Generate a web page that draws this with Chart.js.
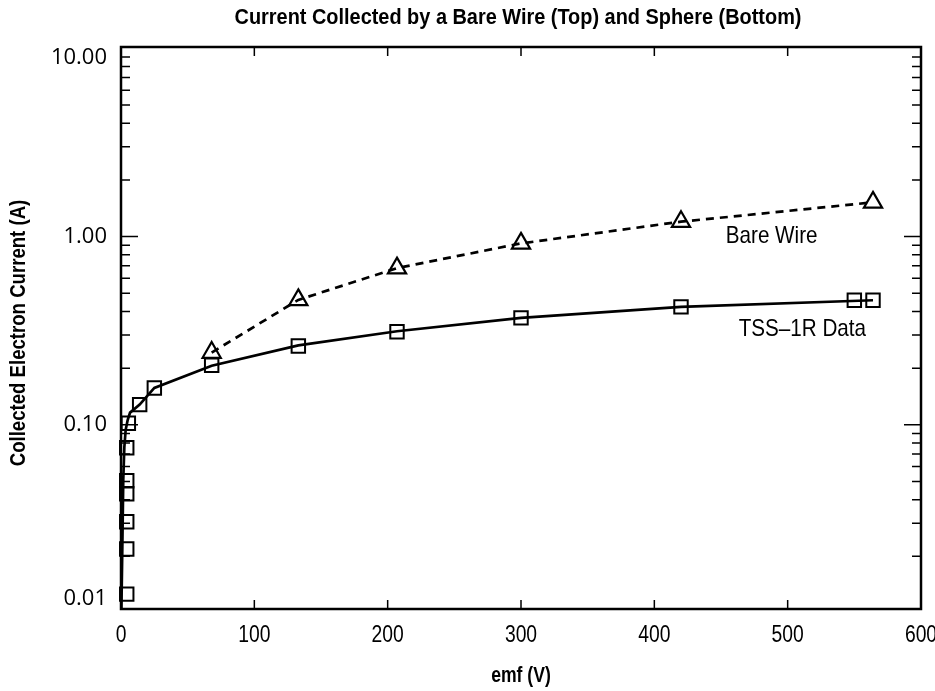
<!DOCTYPE html>
<html>
<head>
<meta charset="utf-8">
<script src="https://cdn.jsdelivr.net/npm/chart.js@4.4.0/dist/chart.umd.min.js"></script>
<style>
  body { margin: 0; background: #fff; }
  #wrap { width: 935px; height: 691px; }
</style>
</head>
<body>
<div id="wrap"><canvas id="currentChart" width="935" height="691"></canvas></div>
<script>
// ========================================
// Current collected by a bare wire and a sphere
// ========================================

// TSS-1R data (squares)
const sphereEmf = [4.3, 4.3, 4.3, 4.3, 4.3, 4.3, 5.5, 14, 25, 68, 133, 207, 300, 420, 550, 564];
const sphereCurrent = [0.0126, 0.0219, 0.0305, 0.043, 0.0504, 0.0755, 0.102, 0.128, 0.157, 0.207, 0.262, 0.312, 0.370, 0.423, 0.459, 0.459];

// Solid curve through the sphere data
const fitEmf = [0.3, 1.0, 1.7, 2.5, 3.5, 5.0, 6.8, 14, 25, 68, 133, 207, 300, 420, 564];
const fitCurrent = [0.0105, 0.0225, 0.051, 0.076, 0.094, 0.106, 0.116, 0.128, 0.157, 0.206, 0.264, 0.314, 0.370, 0.423, 0.459];

// Bare wire (triangles, dashed)
const wireEmf = [68, 133, 207, 300, 420, 564];
const wireCurrent = [0.242, 0.461, 0.680, 0.920, 1.20, 1.52];

// Axis ticks
const xTickValues = [0, 100, 200, 300, 400, 500, 600];
const yTickValues = [0.01, 0.1, 1, 10];
const yTickLabels = ['0.01', '0.10', '1.00', '10.00'];

// Text labels placed next to the curves (data coordinates)
const curveLabels = ['Bare Wire', 'TSS\u20131R Data'];
const curveLabelEmf = [488, 511];
const curveLabelCurrent = [1.0, 0.323];

const SANS = '"Liberation Sans", Arimo, Arial, sans-serif';
const WIDE = '"Open Sans", "Noto Sans", sans-serif';

const toPoints = (xs, ys) => xs.map((v, i) => ({ x: v, y: ys[i] }));

// Helvetica-Narrow look: regular sans squeezed horizontally
function narrowText(ctx, text, x, y, size, weight, sx, rot) {
  ctx.save();
  ctx.translate(x, y);
  if (rot) ctx.rotate(rot);
  ctx.scale(sx, 1);
  ctx.font = `${weight} ${size}px ${SANS}`;
  ctx.textAlign = 'center';
  ctx.textBaseline = 'middle';
  ctx.fillText(text, 0, 0);
  ctx.restore();
}

// Frame, inward ticks, labels, titles
const framePlugin = {
  id: 'frame',
  afterDraw(chart) {
    const { ctx, chartArea: a, scales: { x, y } } = chart;
    ctx.save();
    ctx.strokeStyle = '#000';
    ctx.fillStyle = '#000';

    // x ticks, bottom and top
    ctx.lineWidth = 1.5;
    ctx.beginPath();
    xTickValues.forEach(v => {
      const px = x.getPixelForValue(v);
      ctx.moveTo(px, a.bottom); ctx.lineTo(px, a.bottom - 9);
      ctx.moveTo(px, a.top); ctx.lineTo(px, a.top + 9);
    });

    // y ticks, left and right (log minor ticks)
    [0.01, 0.1, 1].forEach(d => {
      for (let m = 1; m <= 9; m++) {
        const v = d * m;
        if (v < y.min || v > y.max) continue;
        const py = y.getPixelForValue(v);
        const len = m === 1 ? 17 : 9;
        ctx.moveTo(a.left, py); ctx.lineTo(a.left + len, py);
        ctx.moveTo(a.right, py); ctx.lineTo(a.right - len, py);
      }
    });
    ctx.stroke();

    // frame
    ctx.lineWidth = 2.5;
    ctx.strokeRect(a.left, a.top, a.right - a.left, a.bottom - a.top);

    // y tick labels
    ctx.font = '22px ' + WIDE;
    ctx.textAlign = 'right';
    ctx.textBaseline = 'middle';
    yTickValues.forEach((v, i) => {
      let py = y.getPixelForValue(v);
      py = Math.min(Math.max(py, a.top + 11), a.bottom - 10);
      ctx.fillText(yTickLabels[i], 107, py);
    });

    // x tick labels
    xTickValues.forEach(v => {
      narrowText(ctx, String(v), x.getPixelForValue(v), 636, 23, 'normal', 0.84);
    });

    // axis titles
    narrowText(ctx, 'emf (V)', (a.left + a.right) / 2, 676, 22, 'bold', 0.8);
    narrowText(ctx, 'Collected Electron Current (A)', 19, (a.top + a.bottom) / 2 + 5, 22, 'bold', 0.845, -Math.PI / 2);

    // chart title
    narrowText(ctx, 'Current Collected by a Bare Wire (Top) and Sphere (Bottom)', (a.left + a.right) / 2 - 3, 18, 22, 'bold', 0.905);

    // curve labels
    curveLabels.forEach((t, i) => {
      narrowText(ctx, t, x.getPixelForValue(curveLabelEmf[i]), y.getPixelForValue(curveLabelCurrent[i]), 24, 'normal', 0.86);
    });

    ctx.restore();
  }
};

document.addEventListener('DOMContentLoaded', () => {
  const ctx = document.getElementById('currentChart');
  new Chart(ctx, {
    type: 'scatter',
    data: {
      datasets: [
        {
          label: 'Fit',
          data: toPoints(fitEmf, fitCurrent),
          showLine: true,
          borderColor: '#000',
          borderWidth: 2.7,
          pointRadius: 0,
          tension: 0,
          clip: false
        },
        {
          label: 'TSS-1R Data',
          data: toPoints(sphereEmf, sphereCurrent),
          showLine: false,
          pointStyle: 'rect',
          pointRadius: 9.5,
          pointBorderWidth: 2,
          pointBorderColor: '#000',
          pointBackgroundColor: 'rgba(0,0,0,0)',
          clip: false
        },
        {
          label: 'Bare Wire',
          data: toPoints(wireEmf, wireCurrent),
          showLine: true,
          borderColor: '#000',
          borderWidth: 2.7,
          borderDash: [8, 6],
          pointStyle: 'triangle',
          pointRadius: 10.5,
          pointBorderWidth: 2.2,
          pointBorderColor: '#000',
          pointBackgroundColor: 'rgba(0,0,0,0)',
          clip: false
        }
      ]
    },
    options: {
      responsive: false,
      devicePixelRatio: 1,
      animation: false,
      layout: { padding: { top: 47, right: 14, left: 0, bottom: 0 } },
      plugins: {
        legend: { display: false },
        tooltip: { enabled: false },
        title: { display: false }
      },
      scales: {
        x: {
          type: 'linear',
          min: 0,
          max: 600,
          grid: { display: false, drawTicks: false },
          border: { display: false },
          ticks: { display: false, stepSize: 100 },
          afterFit: s => { s.height = 82; s.paddingLeft = 0; s.paddingRight = 0; }
        },
        y: {
          type: 'logarithmic',
          min: 0.0105,
          max: 10.17,
          grid: { display: false, drawTicks: false },
          border: { display: false },
          ticks: { display: false },
          afterFit: s => { s.width = 121; s.paddingTop = 0; s.paddingBottom = 0; }
        }
      }
    },
    plugins: [framePlugin]
  });
});
</script>
</body>
</html>
